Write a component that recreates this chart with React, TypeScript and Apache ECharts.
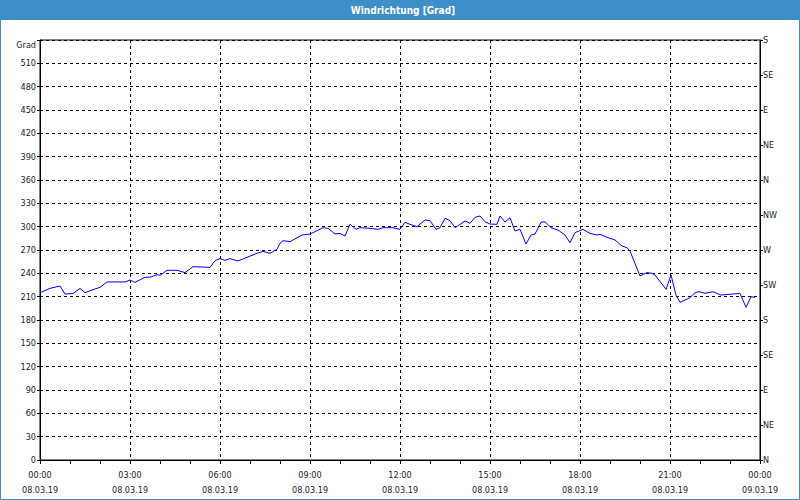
import React, { useEffect, useRef } from "react";
import * as echarts from "echarts";

const TITLE = "Windrichtung [Grad]";
const Y_NAME = "Grad";
const DATE_START = "08.03.19";
const DATE_END = "09.03.19";
const COMPASS = ["N", "NE", "E", "SE", "S", "SW", "W", "NW", "N", "NE", "E", "SE", "S"];

const times: string[] = [
  "00:02", "00:20", "00:40", "00:50", "01:06", "01:20", "01:30", "01:44", "02:00", "02:14",
  "02:50", "03:00", "03:10", "03:30", "03:40", "03:54", "04:00", "04:14", "04:34", "04:50",
  "05:06", "05:40", "05:50", "06:00", "06:10", "06:20", "06:36", "06:54", "07:14", "07:26",
  "07:40", "07:54", "08:00", "08:06", "08:20", "08:44", "09:00", "09:06", "09:26", "09:36",
  "09:50", "10:00", "10:10", "10:20", "10:32", "10:40", "11:00", "11:16", "11:26", "11:46",
  "12:00", "12:10", "12:20", "12:34", "12:50", "13:00", "13:12", "13:20", "13:30", "13:40",
  "13:50", "14:10", "14:20", "14:30", "14:40", "14:50", "15:00", "15:14", "15:20", "15:30",
  "15:40", "15:50", "16:00", "16:12", "16:22", "16:30", "16:42", "16:50", "17:02", "17:16",
  "17:30", "17:40", "17:50", "18:06", "18:20", "18:34", "18:40", "18:54", "19:10", "19:24",
  "19:34", "19:40", "20:00", "20:14", "20:24", "20:30", "20:52", "21:02", "21:12", "21:20",
  "21:40", "21:50", "21:58", "22:10", "22:26", "22:42", "23:06", "23:20", "23:32", "23:42",
  "23:50",
];

const direction: number[] = [
  215.6, 220.7, 223.7, 213.4, 214, 220.7, 215, 218.6, 222, 228.9,
  228.9, 231.4, 228.4, 234.9, 235, 238.3, 237.4, 243.9, 243.9, 240.9,
  248.6, 247.7, 256.3, 258.9, 256.7, 258.9, 255.9, 260.6, 265.7, 268.3,
  265.7, 270.9, 278.6, 282, 280.7, 289.3, 290.6, 292.3, 298.7, 297.9,
  290.6, 291.4, 288, 303, 296.6, 298.7, 297.9, 296.6, 298.7, 298.7,
  296.6, 305.6, 303, 300, 308.6, 307.7, 296.6, 298.7, 310.7, 307.7,
  298.7, 307.3, 304.3, 312, 313.7, 306.4, 303.4, 303, 313.7, 306,
  311.5, 294.4, 296.6, 277.7, 289.3, 290.6, 305.6, 306.4, 298.7, 295.7,
  289.3, 279.4, 292.3, 296.6, 291.4, 289.3, 290.2, 286.3, 282.9, 275.1,
  273, 268.7, 236.6, 240.9, 240, 237.9, 219.4, 237.9, 212, 202.7,
  208.7, 215.1, 216.4, 214.3, 216.4, 212.1, 213.4, 214.3, 196.3, 210,
  209.1,
];

const toHours = (t: string) => {
  const [h, m] = t.split(":").map(Number);
  return h + m / 60;
};

const FONT = "'DejaVu Sans Condensed', 'DejaVu Sans', sans-serif";
const BLUE = "#3d8fc7";
const TEXT = "#1a1a33";

export default function App() {
  const ref = useRef<HTMLDivElement>(null);
  useEffect(() => {
    if (!ref.current) return;
    const chart = echarts.init(ref.current, null, { renderer: "svg" });
    const data = times.map((t, i) => [toHours(t), direction[i]]);
    chart.setOption({
      animation: false,
      backgroundColor: "#ffffff",
      grid: { left: 40, right: 40, top: 40, bottom: 40, show: true, borderColor: "#000", borderWidth: 1 },
      graphic: [
        { type: "rect", left: 0, top: 0, shape: { x: 0, y: 0, width: 800, height: 20 }, style: { fill: BLUE }, z: 10 },
        {
          type: "rect", shape: { x: 0.5, y: 0.5, width: 799, height: 499 },
          style: { fill: "none", stroke: BLUE, lineWidth: 1 }, z: 10,
        },
        {
          type: "text", x: 403, y: 10,
          style: { text: TITLE, fill: "#fff", font: `bold 10px ${FONT}`, align: "center", verticalAlign: "middle" }, z: 11,
        },
        {
          type: "text", x: 36, y: 45,
          style: { text: Y_NAME, fill: TEXT, font: `9px ${FONT}`, align: "right", verticalAlign: "middle" }, z: 11,
        },
      ],
      xAxis: {
        type: "value", min: 0, max: 24, interval: 3,
        axisLine: { show: true, lineStyle: { color: "#000", width: 1 } },
        axisTick: { show: true, length: 4, lineStyle: { color: "#000" } },
        minorTick: { show: true, splitNumber: 3, length: 4, lineStyle: { color: "#000" } },
        splitLine: { show: true, lineStyle: { color: "#000", type: [3, 3], width: 1 } },
        axisLabel: {
          color: TEXT, fontFamily: FONT, fontSize: 9, margin: 7, lineHeight: 15,
          showMinLabel: true, showMaxLabel: true,
          formatter: (v: number) => {
            const hh = String(v % 24).padStart(2, "0");
            return `${hh}:00\n${v >= 24 ? DATE_END : DATE_START}`;
          },
        },
      },
      yAxis: [
        {
          type: "value", min: 0, max: 540, interval: 30,
          axisLine: { show: true, lineStyle: { color: "#000", width: 1 } },
          axisTick: { show: true, length: 3, lineStyle: { color: "#000" } },
          splitLine: { show: true, lineStyle: { color: "#000", type: [3, 3], width: 1 } },
          axisLabel: {
            color: TEXT, fontFamily: FONT, fontSize: 9, margin: 4,
            formatter: (v: number) => (v >= 540 ? "" : String(v)),
          },
        },
        {
          type: "value", min: 0, max: 540, interval: 45, position: "right",
          axisLine: { show: true, lineStyle: { color: "#000", width: 1 } },
          axisTick: { show: true, length: 3, lineStyle: { color: "#000" } },
          splitLine: { show: false },
          axisLabel: {
            color: TEXT, fontFamily: FONT, fontSize: 9, margin: 3,
            formatter: (v: number) => COMPASS[Math.round(v / 45)] ?? "",
          },
        },
      ],
      series: [
        {
          type: "line", data, yAxisIndex: 0, showSymbol: false, symbol: "none",
          lineStyle: { color: "#0000ff", width: 1 }, itemStyle: { color: "#0000ff" },
        },
      ],
    });
    return () => chart.dispose();
  }, []);
  return <div ref={ref} style={{ position: "fixed", left: 0, top: 0, width: 800, height: 500 }} />;
}
